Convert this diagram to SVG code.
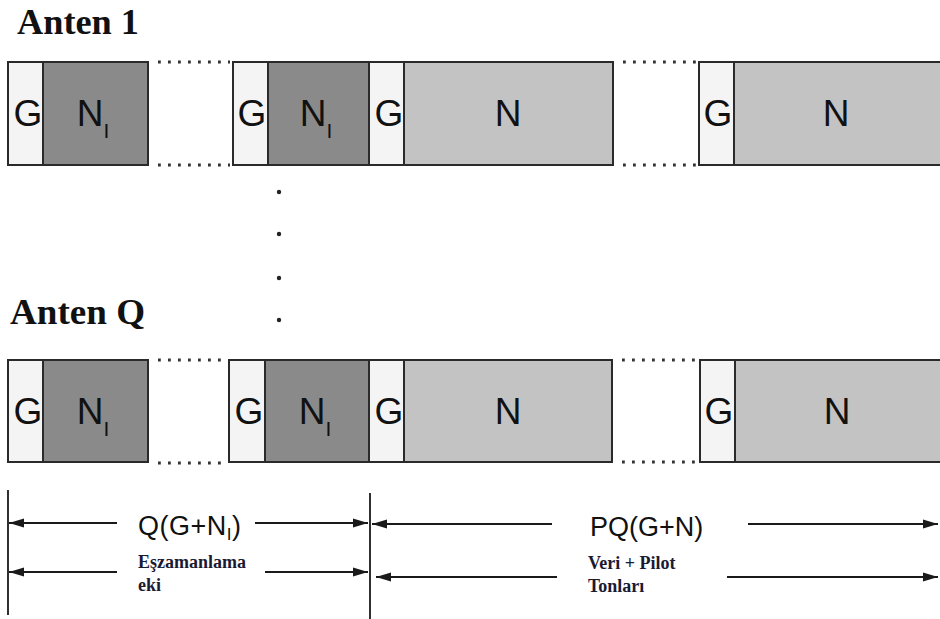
<svg xmlns="http://www.w3.org/2000/svg" width="940" height="619" viewBox="0 0 940 619">
  <defs>
    <marker id="arrow" viewBox="0 0 15 10" refX="15" refY="5" markerWidth="15" markerHeight="10" markerUnits="userSpaceOnUse" orient="auto-start-reverse">
      <path d="M0,0.5 L15,5 L0,9.5 Z" fill="#1a1a1a"/>
    </marker>
    <style>
      .g { fill: #f4f4f4; stroke: #2a2a2a; stroke-width: 2; }
      .ni { fill: #8a8a8a; stroke: #2a2a2a; stroke-width: 2; }
      .n { fill: #c3c3c3; stroke: #2a2a2a; stroke-width: 2; }
      .lbl { font-family: "Liberation Sans", Arial, sans-serif; font-size: 37px; fill: #111; text-anchor: middle; }
      .sub { font-size: 21px; }
      .title { font-family: "Liberation Serif", "Times New Roman", serif; font-weight: bold; font-size: 35px; fill: #111; }
      .dots { stroke: #333; stroke-width: 2.8; stroke-dasharray: 2.8 7.2; fill: none; }
      .dim { stroke: #1a1a1a; stroke-width: 1.8; fill: none; }
      .dimarrow { stroke: #1a1a1a; stroke-width: 1.8; fill: none; marker-end: url(#arrow); }
      .formula { font-family: "Liberation Sans", Arial, sans-serif; font-size: 27px; fill: #111; }
      .note { font-family: "Liberation Serif", "Times New Roman", serif; font-weight: bold; font-size: 18px; fill: #1a1a33; }
    </style>
  </defs>

  <!-- antenna titles -->
  <text class="title" x="17" y="34" textLength="122" lengthAdjust="spacingAndGlyphs">Anten 1</text>
  <text class="title" x="10" y="324" textLength="135" lengthAdjust="spacingAndGlyphs">Anten Q</text>

  <!-- antenna 1 frame -->
  <g id="ant1-pre1">
    <rect class="g" x="8" y="62" width="35" height="103"/>
    <rect class="ni" x="43" y="62" width="105" height="103"/>
    <text class="lbl" x="28" y="126">G</text>
    <text class="lbl" x="93" y="126">N<tspan class="sub" dy="12">I</tspan></text>
  </g>
  <g id="ant1-preQ">
    <rect class="g" x="233" y="62" width="35" height="103"/>
    <rect class="ni" x="268" y="62" width="101" height="103"/>
    <text class="lbl" x="252" y="126">G</text>
    <text class="lbl" x="316" y="126">N<tspan class="sub" dy="12">I</tspan></text>
  </g>
  <g id="ant1-data1">
    <rect class="g" x="369" y="62" width="35" height="103"/>
    <rect class="n" x="404" y="62" width="209" height="103"/>
    <text class="lbl" x="389" y="126">G</text>
    <text class="lbl" x="508" y="126">N</text>
  </g>
  <g id="ant1-dataP">
    <rect class="g" x="699" y="62" width="35" height="103"/>
    <rect class="n" x="734" y="62" width="215" height="103"/>
    <text class="lbl" x="718" y="126">G</text>
    <text class="lbl" x="836" y="126">N</text>
  </g>

  <!-- antenna Q frame -->
  <g id="antQ-pre1">
    <rect class="g" x="8" y="360" width="35" height="102"/>
    <rect class="ni" x="43" y="360" width="105" height="102"/>
    <text class="lbl" x="28" y="424">G</text>
    <text class="lbl" x="93" y="424">N<tspan class="sub" dy="12">I</tspan></text>
  </g>
  <g id="antQ-preQ">
    <rect class="g" x="229" y="360" width="36" height="102"/>
    <rect class="ni" x="265" y="360" width="104" height="102"/>
    <text class="lbl" x="249" y="424">G</text>
    <text class="lbl" x="315" y="424">N<tspan class="sub" dy="12">I</tspan></text>
  </g>
  <g id="antQ-data1">
    <rect class="g" x="369" y="360" width="35" height="102"/>
    <rect class="n" x="404" y="360" width="208" height="102"/>
    <text class="lbl" x="389" y="424">G</text>
    <text class="lbl" x="508" y="424">N</text>
  </g>
  <g id="antQ-dataP">
    <rect class="g" x="700" y="360" width="35" height="102"/>
    <rect class="n" x="735" y="360" width="215" height="102"/>
    <text class="lbl" x="719" y="424">G</text>
    <text class="lbl" x="837" y="424">N</text>
  </g>

  <!-- continuation dots between blocks and between antennas -->
  <g id="continuation">
    <path class="dots" d="M158,62 H230 M158,165 H230 M623,62 H697 M623,165 H697"/>
    <path class="dots" d="M158,360 H227 M158,463 H225 M622,360 H698 M622,462 H698"/>
    <circle cx="279" cy="192" r="2.2" fill="#222"/>
    <circle cx="279" cy="234" r="2.2" fill="#222"/>
    <circle cx="279" cy="278" r="2.2" fill="#222"/>
    <circle cx="279" cy="320" r="2.2" fill="#222"/>
  </g>

  <!-- dimension lines -->
  <g id="connectors">
    <line class="dim" x1="8" y1="490" x2="8" y2="615"/>
    <line class="dim" x1="370" y1="493" x2="370" y2="619"/>
    <line class="dimarrow" x1="117" y1="523" x2="9" y2="523"/>
    <line class="dimarrow" x1="255" y1="523" x2="368" y2="523"/>
    <line class="dimarrow" x1="552" y1="524" x2="372" y2="524"/>
    <line class="dimarrow" x1="748" y1="524" x2="938" y2="524"/>
    <line class="dimarrow" x1="117" y1="572" x2="9" y2="572"/>
    <line class="dimarrow" x1="265" y1="572" x2="368" y2="572"/>
    <line class="dimarrow" x1="557" y1="577" x2="376" y2="577"/>
    <line class="dimarrow" x1="727" y1="577" x2="938" y2="577"/>
  </g>

  <!-- dimension labels -->
  <text class="formula" x="138" y="535" letter-spacing="0.5">Q(G+N<tspan font-size="17" dy="5">I</tspan><tspan dy="-5">)</tspan></text>
  <text class="formula" x="590" y="536" font-size="26">PQ(G+N)</text>
  <text class="note" x="138" y="568">Eşzamanlama</text>
  <text class="note" x="138" y="591">eki</text>
  <text class="note" x="588" y="569">Veri + Pilot</text>
  <text class="note" x="588" y="592">Tonları</text>
</svg>
